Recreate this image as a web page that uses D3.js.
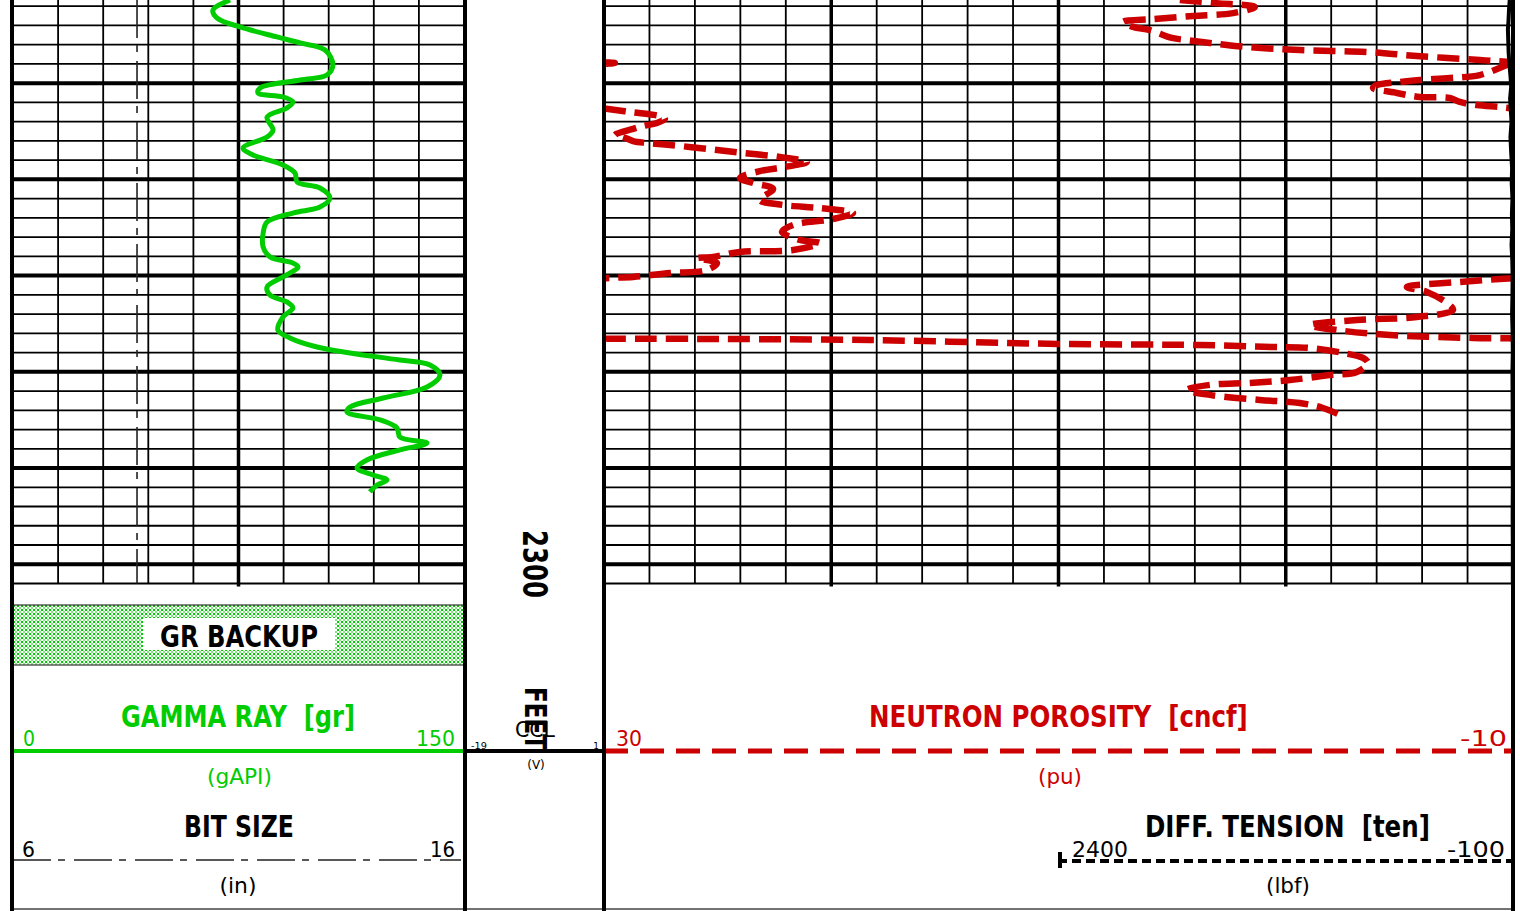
<!DOCTYPE html>
<html>
<head>
<meta charset="utf-8">
<script src="https://cdn.jsdelivr.net/npm/d3@7"></script>
<style>
  body { margin: 0; background: #fff; }
  svg { display: block; }
  text { white-space: pre; }
</style>
</head>
<body>
<div id="log"></div>
<script>
// Log excerpt: gamma ray track, depth track, neutron porosity track

// Gamma ray (gAPI) vs depth (ft)
var grDepth = [2006.8, 2012.0, 2016.2, 2020.8, 2026.0, 2029.1, 2032.8, 2040.6, 2045.8, 2048.4,
	2052.5, 2055.1, 2057.2, 2059.8, 2062.9, 2067.6, 2074.4, 2078.0, 2083.7, 2087.3,
	2092.5, 2096.7, 2101.4, 2104.5, 2109.7, 2114.4, 2117.5, 2122.2, 2127.9, 2135.1,
	2140.3, 2143.5, 2145.5, 2150.7, 2155.9, 2160.1, 2163.7, 2166.8, 2171.5, 2178.3,
	2182.4, 2187.1, 2190.2, 2193.9, 2196.5, 2201.7, 2207.9, 2213.6, 2218.3, 2220.9,
	2225.0, 2229.2, 2233.9, 2237.0, 2240.6, 2245.8, 2250.0, 2253.6, 2256.2, 2258.8, 2262.4];
var grValue = [72.2, 66.5, 67.9, 75.5, 87.8, 95.5, 103.8, 106.4, 104.4, 95.5,
	82.2, 81.5, 89.8, 93.1, 91.1, 84.5, 86.5, 84.5, 76.5, 79.8,
	89.8, 93.8, 94.5, 102.1, 105.4, 102.1, 93.1, 84.5, 83.2, 83.2,
	85.5, 93.1, 94.8, 89.8, 84.5, 85.5, 91.1, 93.1, 89.8, 88.1,
	92.1, 101.1, 112.1, 128.7, 138.7, 142.0, 137.7, 123.1, 112.1, 111.1,
	122.1, 127.7, 128.7, 137.7, 128.7, 117.7, 114.4, 119.7, 124.4, 121.1, 118.7];

// Neutron porosity (pu) vs depth; values past -10 wrap round the track
var nphiDepth = [2006.8, 2008.4, 2010.4, 2013.6, 2015.1, 2016.7, 2018.2, 2020.8, 2022.4, 2026.5,
	2027.6, 2029.1, 2031.2, 2032.8, 2033.8, 2035.9, 2038.0, 2039.0, 2039.5, 2040.1,
	2045.8, 2047.3, 2048.4, 2049.4, 2051.0, 2052.5, 2055.1, 2057.2, 2057.7, 2059.8,
	2061.4, 2062.4, 2063.4, 2065.0, 2067.6, 2068.6, 2070.7, 2072.3, 2073.8, 2077.0,
	2078.0, 2080.1, 2081.1, 2082.1, 2084.2, 2086.3, 2088.4, 2091.0, 2093.6, 2095.7,
	2099.3, 2101.9, 2105.0, 2110.7, 2113.3, 2114.9, 2117.5, 2120.6, 2123.7, 2127.3,
	2131.5, 2133.1, 2136.7, 2137.7, 2140.3, 2140.9, 2143.5, 2147.1, 2148.7, 2150.7,
	2151.2, 2151.8, 2153.3, 2155.9, 2158.5, 2164.2, 2167.9, 2171.5, 2173.1, 2175.7,
	2178.3, 2180.9, 2182.4, 2182.6, 2182.8, 2182.9, 2183.5, 2185.5, 2186.1, 2187.1,
	2187.6, 2190.2, 2192.8, 2195.4, 2200.1, 2201.7, 2204.3, 2205.8, 2206.8, 2209.4,
	2212.0, 2214.6, 2216.2, 2218.8, 2222.4];
var nphiValue = [4.66, 3.12, 1.36, 2.32, 4.08, 5.84, 7.16, 6.72, 5.98, 5.01,
	4.35, 3.34, 1.71, -0.62, -3.57, -5.77, -8.54, -9.86, -10.48, -9.86,
	-8.54, -7.22, -5.90, -5.02, -4.01, -3.84, -4.89, -5.90, -7.22, -7.66,
	-8.41, -9.42, -10.18, -11.14, -12.60, -12.68, -12.33, -11.72, -11.28, -10.48,
	-10.84, -11.28, -11.89, -12.90, -14.53, -16.12, -17.74, -18.93, -17.96, -16.86,
	-15.98, -16.56, -17.44, -16.86, -17.88, -19.50, -20.96, -20.08, -18.32, -17.83,
	-18.62, -19.50, -18.32, -15.98, -14.80, -14.09, -14.97, -14.53, -12.90, -11.28,
	-10.26, -9.42, -7.66, -5.33, -6.21, -7.09, -7.36, -5.77, -3.13, -1.06,
	-2.25, -4.58, -8.24, -9.78, -10.26, -14.22, -21.70, -29.98, -36.22, -39.44,
	-41.06, -42.52, -43.40, -43.62, -43.13, -41.94, -40.18, -38.42, -36.66, -35.65,
	-36.66, -38.86, -40.62, -41.64, -42.38];

// Differential tension (lbf) vs depth
var tensDepth = [2006.8, 2012, 2018, 2022, 2028, 2034, 2040, 2046, 2052, 2058, 2064, 2070,
	2078, 2086, 2094, 2102, 2110, 2118, 2126, 2134, 2142, 2150, 2160, 2170, 2180,
	2190, 2200, 2215, 2230, 2245, 2260, 2275, 2290, 2305, 2310];
var tensValue = [-82, -78, -75, -72, -74, -76, -80, -86, -90, -84, -88, -92,
	-86, -90, -95, -93, -97, -94, -96, -92, -96, -98, -97, -95, -98,
	-99, -97, -98, -99, -98, -99, -98, -99, -99, -99];

// Bit size (in), constant over the interval
var bitDepth = [2006.8, 2310];
var bitValue = [8.75, 8.75];

// Scale limits and header labels
var depthRange = [2006.8, 2310];
var grLimits = [0, 150];
var bitLimits = [6, 16];
var nphiLimits = [30, -10];
var tensLimits = [2400, -100];
var depthLabel = "2300";
var ccl = ["-19", "1"];

var W = 1520, H = 911;
var gridBottom = 583.5;
var green = "#00cc00", red = "#cc0000";
var font = "'DejaVu Sans', sans-serif";

var scale_depth = d3.scaleLinear().domain(depthRange).range([0, gridBottom]);
var scale_gr = d3.scaleLinear().domain(grLimits).range([13, 464]);
var scale_bit = d3.scaleLinear().domain(bitLimits).range([13, 464]);
var scale_nphi = d3.scaleLinear().domain(nphiLimits).range([604, 1513]);
var scale_tens = d3.scaleLinear().domain(tensLimits).range([1058, 1513]);

var svg = d3.select("#log").append("svg")
	.attr("width", W)
	.attr("height", H)
	.style("background", "#fff");

var defs = svg.append("defs");
var hatch = defs.append("pattern")
	.attr("id", "hatch")
	.attr("patternUnits", "userSpaceOnUse")
	.attr("width", 4).attr("height", 4);
hatch.append("rect").attr("width", 4).attr("height", 4).attr("fill", "#fff");
hatch.append("path").attr("d", "M0.5,0.5L3.5,3.5M3.5,0.5L0.5,3.5")
	.attr("stroke", green).attr("stroke-width", 1);

defs.append("clipPath").attr("id", "clip1")
	.append("rect").attr("x", 13).attr("y", 0).attr("width", 451).attr("height", gridBottom);
defs.append("clipPath").attr("id", "clip3")
	.append("rect").attr("x", 604).attr("y", 0).attr("width", 909).attr("height", gridBottom);

var grid = svg.append("g");

// Horizontal grid lines, every 10 ft, heavier every 50 ft
var depthLines = d3.range(2010, 2311, 10);
[[13, 464], [604, 1513]].forEach(function(tr) {
	grid.selectAll(null)
		.data(depthLines)
		.enter()
		.append("line")
		.attr("x1", tr[0]).attr("x2", tr[1])
		.attr("y1", function(d) { return scale_depth(d); })
		.attr("y2", function(d) { return scale_depth(d); })
		.attr("stroke", "#000")
		.attr("stroke-width", function(d) { return d % 50 === 0 ? 4 : 1.8; });
});

// Vertical grid lines, linear divisions
var grLines = d3.range(15, 150, 15);
grid.selectAll(null)
	.data(grLines)
	.enter()
	.append("line")
	.attr("x1", function(d) { return scale_gr(d); })
	.attr("x2", function(d) { return scale_gr(d); })
	.attr("y1", 0)
	.attr("y2", function(d) { return d === 75 ? gridBottom + 3 : gridBottom; })
	.attr("stroke", "#000")
	.attr("stroke-width", function(d) { return d === 75 ? 3.5 : 1.8; });

var nphiLines = d3.range(28, -10, -2);
grid.selectAll(null)
	.data(nphiLines)
	.enter()
	.append("line")
	.attr("x1", function(d) { return scale_nphi(d); })
	.attr("x2", function(d) { return scale_nphi(d); })
	.attr("y1", 0)
	.attr("y2", function(d) { return d % 10 === 0 ? gridBottom + 3 : gridBottom; })
	.attr("stroke", "#000")
	.attr("stroke-width", function(d) { return d % 10 === 0 ? 3.5 : 1.8; });

// Bit size curve (dash-dot)
var bitLine = d3.line()
	.x(function(d, i) { return scale_bit(bitValue[i]); })
	.y(function(d) { return scale_depth(d); });
svg.append("path")
	.attr("d", bitLine(bitDepth))
	.attr("fill", "none")
	.attr("stroke", "#222")
	.attr("stroke-width", 1.6)
	.attr("stroke-dasharray", "38,7,7,9");

// Gamma ray curve
var grLine = d3.line()
	.x(function(d, i) { return scale_gr(grValue[i]); })
	.y(function(d) { return scale_depth(d); })
	.curve(d3.curveCatmullRom);
svg.append("path")
	.attr("clip-path", "url(#clip1)")
	.attr("d", grLine(grDepth))
	.attr("fill", "none")
	.attr("stroke", green)
	.attr("stroke-width", 5)
	.attr("stroke-linejoin", "round");

// Split a curve into wrapped segments (backup presentation)
function wrapSegments(depths, values, left, right) {
	var span = left - right;
	var segs = [], cur = [];
	function wrapIndex(v) { return Math.floor((left - v) / span); }
	for (var i = 0; i < depths.length; i++) {
		var v = values[i], d = depths[i], k = wrapIndex(v);
		if (i > 0) {
			var pv = values[i - 1], pd = depths[i - 1], pk = wrapIndex(pv);
			if (k !== pk) {
				var edge = left - span * Math.max(k, pk);
				var t = (edge - pv) / (v - pv);
				var ed = pd + t * (d - pd);
				cur.push({depth: ed, val: edge + span * pk});
				segs.push(cur);
				cur = [{depth: ed, val: edge + span * k}];
			}
		}
		cur.push({depth: d, val: v + span * k});
	}
	segs.push(cur);
	return segs;
}

var nphiLine = d3.line()
	.x(function(d) { return scale_nphi(d.val); })
	.y(function(d) { return scale_depth(d.depth); })
	.curve(d3.curveCatmullRom);
var nphiG = svg.append("g").attr("clip-path", "url(#clip3)");
nphiG.selectAll("path")
	.data(wrapSegments(nphiDepth, nphiValue, nphiLimits[0], nphiLimits[1]))
	.enter()
	.append("path")
	.attr("d", nphiLine)
	.attr("fill", "none")
	.attr("stroke", red)
	.attr("stroke-width", 6.5)
	.attr("stroke-dasharray", "22,9");

// Tension curve
var tensLine = d3.line()
	.x(function(d, i) { return scale_tens(tensValue[i]); })
	.y(function(d) { return scale_depth(d); });
nphiG.append("path")
	.attr("d", tensLine(tensDepth))
	.attr("fill", "none")
	.attr("stroke", "#000")
	.attr("stroke-width", 4);

// Header: GR backup box
svg.append("rect")
	.attr("x", 13).attr("y", 605).attr("width", 451).attr("height", 60)
	.attr("fill", "url(#hatch)")
	.attr("stroke", "#333").attr("stroke-width", 1.2);
svg.append("rect")
	.attr("x", 143).attr("y", 618).attr("width", 192).attr("height", 32)
	.attr("fill", "#fff");

// Text squeezed horizontally to the width it has in the log header
function label(x, y, txt, o) {
	var t = svg.append("text")
		.attr("x", 0).attr("y", 0)
		.attr("text-anchor", o.anchor || "start")
		.style("font-family", font)
		.style("font-size", (o.size || 20) + "px")
		.style("font-weight", o.bold ? "bold" : "normal")
		.style("fill", o.color || "#000")
		.text(txt);
	var k = 1;
	if (o.len) k = o.len / t.node().getComputedTextLength();
	t.attr("transform", "translate(" + x + "," + y + ")" +
		(o.rotate ? " rotate(90)" : "") + " scale(" + k + ",1)");
	return t;
}

label(239, 647, "GR BACKUP", {anchor: "middle", size: 30, bold: true, len: 158});

label(121, 727, "GAMMA RAY  [gr]", {size: 30, bold: true, len: 234, color: green});
label(23, 746, grLimits[0], {size: 21, color: green, len: 12});
label(455, 746, grLimits[1], {size: 21, color: green, anchor: "end", len: 39});
svg.append("line")
	.attr("x1", scale_gr(0)).attr("x2", 465).attr("y1", 751).attr("y2", 751)
	.attr("stroke", green).attr("stroke-width", 4);
label(239.5, 784, "(gAPI)", {anchor: "middle", size: 21, color: green, len: 65});

label(184, 837, "BIT SIZE", {size: 30, bold: true, len: 110});
label(22, 857, bitLimits[0], {size: 21, len: 13});
label(455, 857, bitLimits[1], {size: 21, anchor: "end", len: 25});
svg.append("line")
	.attr("x1", scale_bit(6)).attr("x2", 461).attr("y1", 860).attr("y2", 860)
	.attr("stroke", "#222").attr("stroke-width", 1.6)
	.attr("stroke-dasharray", "38,7,7,9");
label(238, 893, "(in)", {anchor: "middle", size: 21, len: 37});

// Header: neutron porosity and tension
label(869, 727, "NEUTRON POROSITY  [cncf]", {size: 30, bold: true, len: 379, color: red});
label(616, 746, nphiLimits[0], {size: 21, color: red, len: 26});
label(1507, 746, "-10", {size: 21, color: red, anchor: "end", len: 47});
svg.append("line")
	.attr("x1", 604).attr("x2", 1513).attr("y1", 751).attr("y2", 751)
	.attr("stroke", red).attr("stroke-width", 5)
	.attr("stroke-dasharray", "24,12");
label(1060, 784, "(pu)", {anchor: "middle", size: 21, color: red, len: 44});

label(1145, 837, "DIFF. TENSION  [ten]", {size: 30, bold: true, len: 285});
label(1072, 857, tensLimits[0], {size: 21, len: 56});
label(1505, 857, "-100", {size: 21, anchor: "end", len: 58});
svg.append("line")
	.attr("x1", scale_tens(2400)).attr("x2", 1513).attr("y1", 861).attr("y2", 861)
	.attr("stroke", "#000").attr("stroke-width", 4)
	.attr("stroke-dasharray", "9,5");
svg.append("line")
	.attr("x1", 1060).attr("x2", 1060).attr("y1", 852).attr("y2", 868)
	.attr("stroke", "#000").attr("stroke-width", 4);
label(1288, 893, "(lbf)", {anchor: "middle", size: 21, len: 44});

// Depth track
label(523, 564, depthLabel, {anchor: "middle", size: 33, bold: true, len: 68, rotate: true});
label(525, 718.5, "FEET", {anchor: "middle", size: 30, bold: true, len: 63, rotate: true});
label(535, 737, "CCL", {anchor: "middle", size: 22, len: 40});
label(471, 749, ccl[0], {size: 9, len: 16});
label(599, 749, ccl[1], {size: 9, anchor: "end"});
svg.append("line")
	.attr("x1", 465).attr("x2", 604).attr("y1", 751).attr("y2", 751)
	.attr("stroke", "#000").attr("stroke-width", 4);
label(536, 769, "(V)", {anchor: "middle", size: 12});

// Track borders
svg.append("line").attr("x1", 12).attr("x2", 1513).attr("y1", 909).attr("y2", 909)
	.attr("stroke", "#444").attr("stroke-width", 1.5);
[12, 465, 604, 1513].forEach(function(x) {
	svg.append("line")
		.attr("x1", x).attr("x2", x).attr("y1", 0).attr("y2", H)
		.attr("stroke", "#000").attr("stroke-width", 4);
});
</script>
</body>
</html>
